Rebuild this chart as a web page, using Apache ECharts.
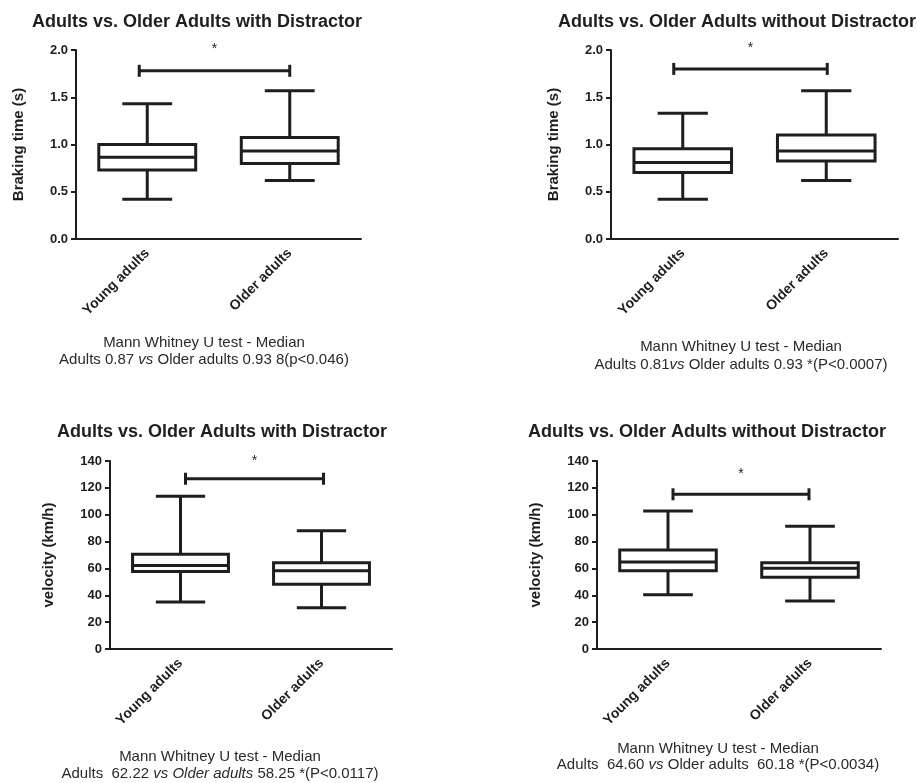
<!DOCTYPE html>
<html><head><meta charset="utf-8">
<script src="https://cdn.jsdelivr.net/npm/echarts@6/dist/echarts.min.js"></script>
<style>html,body{margin:0;padding:0;background:#fff}#c{width:917px;height:783px}</style>
</head><body><div id="c"></div>
<script>
var categories = ['Young adults', 'Older adults'];
// [min, Q1, median, Q3, max]
var brakeWith = [[0.42, 0.73, 0.865, 1.0, 1.43], [0.62, 0.80, 0.93, 1.075, 1.57]];
var brakeWithout = [[0.42, 0.705, 0.81, 0.955, 1.33], [0.62, 0.825, 0.93, 1.10, 1.57]];
var velWith = [[35, 57.7, 62.2, 70.6, 113.8], [30.7, 48.3, 58.2, 64.2, 88]];
var velWithout = [[40.4, 58.2, 64.7, 73.8, 102.8], [35.7, 53.5, 60.2, 64.2, 91.4]];
var bracketLevels = [1.78, 1.80, 126.8, 115.2];
var titles = ['Adults vs. Older Adults with Distractor', 'Adults vs. Older Adults without Distractor',
  'Adults vs. Older Adults with Distractor', 'Adults vs. Older Adults without Distractor'];
var yNames = ['Braking time (s)', 'Braking time (s)', 'velocity (km/h)', 'velocity (km/h)'];
var captions1 = ['Mann Whitney U test - Median', 'Mann Whitney U test - Median', 'Mann Whitney U test - Median', 'Mann Whitney U test - Median'];
var captions2 = [
  'Adults 0.87 {i|vs} Older adults 0.93 8(p<0.046)',
  'Adults 0.81{i|vs} Older adults 0.93 *(P<0.0007)',
  'Adults  62.22 {i|vs Older adults} 58.25 *(P<0.0117)',
  'Adults  64.60 {i|vs} Older adults  60.18 *(P<0.0034)'
];
var yMax = [2.0, 2.0, 140, 140];
var yInterval = [0.5, 0.5, 20, 20];

var FONT = 'Liberation Sans, Arial, sans-serif';
var INK = '#1e1e1e';
var grids = [
  {left: 76, top: 50, width: 285, height: 189},
  {left: 611, top: 50, width: 287, height: 189},
  {left: 110, top: 461, width: 282, height: 188},
  {left: 597, top: 461, width: 284, height: 188}
];
var nameGaps = [50, 50, 54, 54];
var titlePos = [[197, 22], [737, 22], [222, 432], [707, 432]];
var capPos = [[204, 343, 360], [741, 347, 365], [220, 757, 774], [718, 749, 765]];
var bracketOffsets = [[-8, 0], [-9, 1], [5, 2], [5, -1]];
var starGap = [22, 21, 18, 20];
var boxSets = [brakeWith, brakeWithout, velWith, velWithout];

function boxRender(params, api) {
  var c = api.value(0);
  var bw = api.size([1, 0])[0];
  var half = bw * 0.34, capHalf = bw * 0.175;
  var pMin = api.coord([c, api.value(1)]);
  var pQ1 = api.coord([c, api.value(2)]);
  var pMed = api.coord([c, api.value(3)]);
  var pQ3 = api.coord([c, api.value(4)]);
  var pMax = api.coord([c, api.value(5)]);
  var x = pMin[0];
  var st = {stroke: INK, lineWidth: 3, fill: null};
  return {type: 'group', children: [
    {type: 'line', shape: {x1: x, y1: pMax[1], x2: x, y2: pQ3[1]}, style: st},
    {type: 'line', shape: {x1: x, y1: pQ1[1], x2: x, y2: pMin[1]}, style: st},
    {type: 'line', shape: {x1: x - capHalf, y1: pMax[1], x2: x + capHalf, y2: pMax[1]}, style: st},
    {type: 'line', shape: {x1: x - capHalf, y1: pMin[1], x2: x + capHalf, y2: pMin[1]}, style: st},
    {type: 'rect', shape: {x: x - half, y: pQ3[1], width: half * 2, height: pQ1[1] - pQ3[1]}, style: {stroke: INK, lineWidth: 3, fill: '#fff'}},
    {type: 'line', shape: {x1: x - half, y1: pMed[1], x2: x + half, y2: pMed[1]}, style: st}
  ]};
}

function bracketRenderFor(k) {
  return function (params, api) {
    var a = api.coord([api.value(0), api.value(2)]);
    var b = api.coord([api.value(1), api.value(2)]);
    var x1 = a[0] + bracketOffsets[k][0], x2 = b[0] + bracketOffsets[k][1], y = a[1];
    var st = {stroke: INK, lineWidth: 3};
    return {type: 'group', children: [
      {type: 'line', shape: {x1: x1, y1: y, x2: x2, y2: y}, style: st},
      {type: 'line', shape: {x1: x1, y1: y - 6, x2: x1, y2: y + 6}, style: st},
      {type: 'line', shape: {x1: x2, y1: y - 6, x2: x2, y2: y + 6}, style: st},
      {type: 'text', x: (x1 + x2) / 2, y: y - starGap[k], style: {text: '*', fill: INK, font: '14px ' + FONT, textAlign: 'center', textVerticalAlign: 'middle'}}
    ]};
  };
}

var xAxes = [], yAxes = [], series = [], graphics = [];
for (var k = 0; k < 4; k++) {
  xAxes.push({
    type: 'category', gridIndex: k, data: categories, boundaryGap: true,
    axisLine: {lineStyle: {color: INK, width: 2}},
    axisTick: {alignWithLabel: true, length: 5, lineStyle: {color: INK, width: 2}},
    axisLabel: {rotate: 45, margin: 12, color: INK, fontWeight: 'bold', fontSize: 14, fontFamily: FONT}
  });
  yAxes.push({
    type: 'value', gridIndex: k, min: 0, max: yMax[k], interval: yInterval[k],
    name: yNames[k], nameLocation: 'middle', nameGap: nameGaps[k],
    nameTextStyle: {color: INK, fontWeight: 'bold', fontSize: 15, fontFamily: FONT},
    axisLine: {show: true, lineStyle: {color: INK, width: 2}},
    axisTick: {show: true, length: 5, lineStyle: {color: INK, width: 2}},
    splitLine: {show: false},
    axisLabel: {margin: 8, color: INK, fontWeight: 'bold', fontSize: 13, fontFamily: FONT,
      formatter: (k < 2) ? function (v) { return v.toFixed(1); } : function (v) { return String(v); }}
  });
  var data = boxSets[k].map(function (b, i) { return [i].concat(b); });
  series.push({type: 'custom', xAxisIndex: k, yAxisIndex: k, renderItem: boxRender, data: data,
    encode: {x: 0, y: [1, 2, 3, 4, 5]}, silent: true});
  series.push({type: 'custom', xAxisIndex: k, yAxisIndex: k, renderItem: bracketRenderFor(k),
    data: [[0, 1, bracketLevels[k]]], encode: {x: [0, 1], y: 2}, silent: true});
  graphics.push({type: 'text', x: titlePos[k][0], y: titlePos[k][1],
    style: {text: titles[k], fill: INK, font: 'bold 18px ' + FONT, textAlign: 'center', textVerticalAlign: 'middle'}});
  graphics.push({type: 'text', x: capPos[k][0], y: capPos[k][1],
    style: {text: captions1[k], fill: '#2a2a2a', font: '15px ' + FONT, textAlign: 'center', textVerticalAlign: 'middle'}});
  graphics.push({type: 'text', x: capPos[k][0], y: capPos[k][2],
    style: {text: captions2[k], fill: '#2a2a2a', font: '15px ' + FONT, textAlign: 'center', textVerticalAlign: 'middle',
      rich: {i: {fontStyle: 'italic', fontSize: 15, fontFamily: FONT, fill: '#2a2a2a'}}}});
}

var chart = echarts.init(document.getElementById('c'), null, {renderer: 'canvas'});
chart.setOption({
  backgroundColor: '#fff',
  animation: false,
  grid: grids,
  xAxis: xAxes,
  yAxis: yAxes,
  series: series,
  graphic: graphics
});
</script>
</body></html>
